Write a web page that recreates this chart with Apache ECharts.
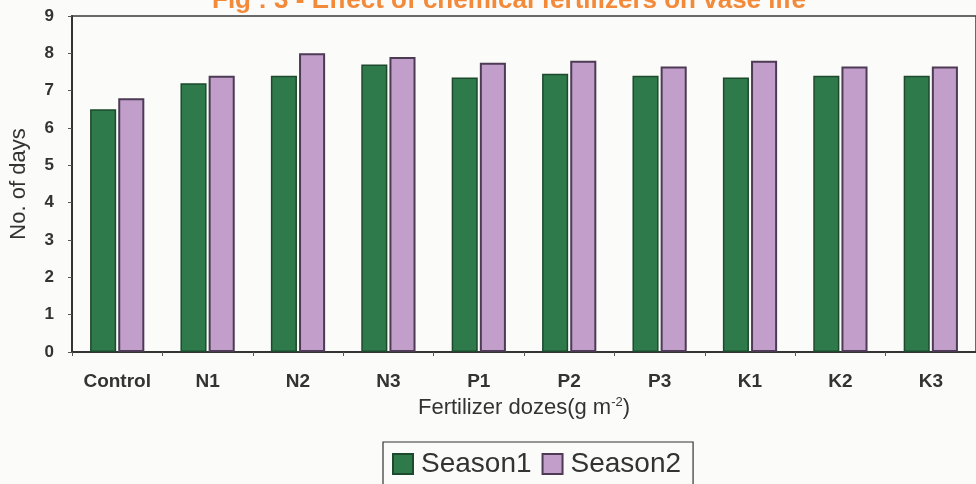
<!DOCTYPE html>
<html>
<head>
<meta charset="utf-8">
<script src="https://cdn.jsdelivr.net/npm/echarts@6/dist/echarts.min.js"></script>
<style>
  html, body { margin: 0; padding: 0; background: #fbfbf9; }
  #chart { width: 976px; height: 484px; }
</style>
</head>
<body>
<div id="chart"></div>
<script>
// Vase life (days) under different fertilizer doses, two seasons
const categories = ['Control', 'N1', 'N2', 'N3', 'P1', 'P2', 'P3', 'K1', 'K2', 'K3'];
const season1 = [6.5, 7.2, 7.4, 7.7, 7.35, 7.45, 7.4, 7.35, 7.4, 7.4];
const season2 = [6.8, 7.4, 8.0, 7.9, 7.75, 7.8, 7.65, 7.8, 7.65, 7.65];
const yTicks = [0, 1, 2, 3, 4, 5, 6, 7, 8, 9];

const chart = echarts.init(document.getElementById('chart'));
const textColor = '#333';
const font = 'Liberation Sans, Arial, sans-serif';

chart.setOption({
  backgroundColor: '#fbfbf9',
  animation: false,
  title: {
    text: 'Fig : 3 - Effect of chemical fertilizers on vase life',
    left: 207,
    top: -17,
    textStyle: { color: '#f28a3a', fontSize: 26, fontWeight: 'bold', fontFamily: font }
  },
  grid: {
    left: 72, right: -2, top: 16, bottom: 132,
    show: true, borderColor: '#3a3a3a', borderWidth: 1.5, backgroundColor: 'transparent'
  },
  legend: {
    left: 383,
    top: 442,
    itemWidth: 20, itemHeight: 20, itemGap: 10,
    padding: [8, 12, 20, 9],
    borderColor: '#333', borderWidth: 1.2,
    backgroundColor: '#fbfbf9',
    icon: 'rect',
    textStyle: { color: textColor, fontSize: 28, fontFamily: font, padding: [0, 0, 0, 3] },
    data: ['Season1', 'Season2']
  },
  xAxis: {
    type: 'category',
    data: categories,
    name: '{a|Fertilizer dozes(g m}{s|-2}{a|)}',
    nameLocation: 'middle',
    nameGap: 43,
    nameTextStyle: {
      rich: {
        a: { fontSize: 22, color: textColor, fontFamily: font },
        s: { fontSize: 13, color: textColor, verticalAlign: 'top', padding: [0, 0, 12, 0], fontFamily: font }
      }
    },
    axisLine: { lineStyle: { color: '#333', width: 2 } },
    axisTick: { show: true, length: 4, lineStyle: { color: '#555' } },
    axisLabel: { color: textColor, fontSize: 19, fontWeight: 'bold', margin: 20, fontFamily: font }
  },
  yAxis: {
    type: 'value',
    min: yTicks[0], max: yTicks[yTicks.length - 1], interval: 1,
    name: 'No. of days',
    nameLocation: 'middle',
    nameGap: 42,
    nameTextStyle: { color: textColor, fontSize: 22, fontFamily: font },
    axisLine: { show: true, lineStyle: { color: '#333', width: 2 } },
    axisTick: { show: true, length: 4, lineStyle: { color: '#555' } },
    splitLine: { show: false },
    axisLabel: { color: textColor, fontSize: 17, fontWeight: 'bold', margin: 18, fontFamily: font }
  },
  series: [
    {
      name: 'Season1', type: 'bar', data: season1,
      barGap: '8%', barCategoryGap: '40%',
      itemStyle: { color: '#2f7a4b', borderColor: '#1d4a2e', borderWidth: 1.5 }
    },
    {
      name: 'Season2', type: 'bar', data: season2,
      itemStyle: { color: '#c29fcb', borderColor: '#4d3b55', borderWidth: 2 }
    }
  ]
});
</script>
</body>
</html>
